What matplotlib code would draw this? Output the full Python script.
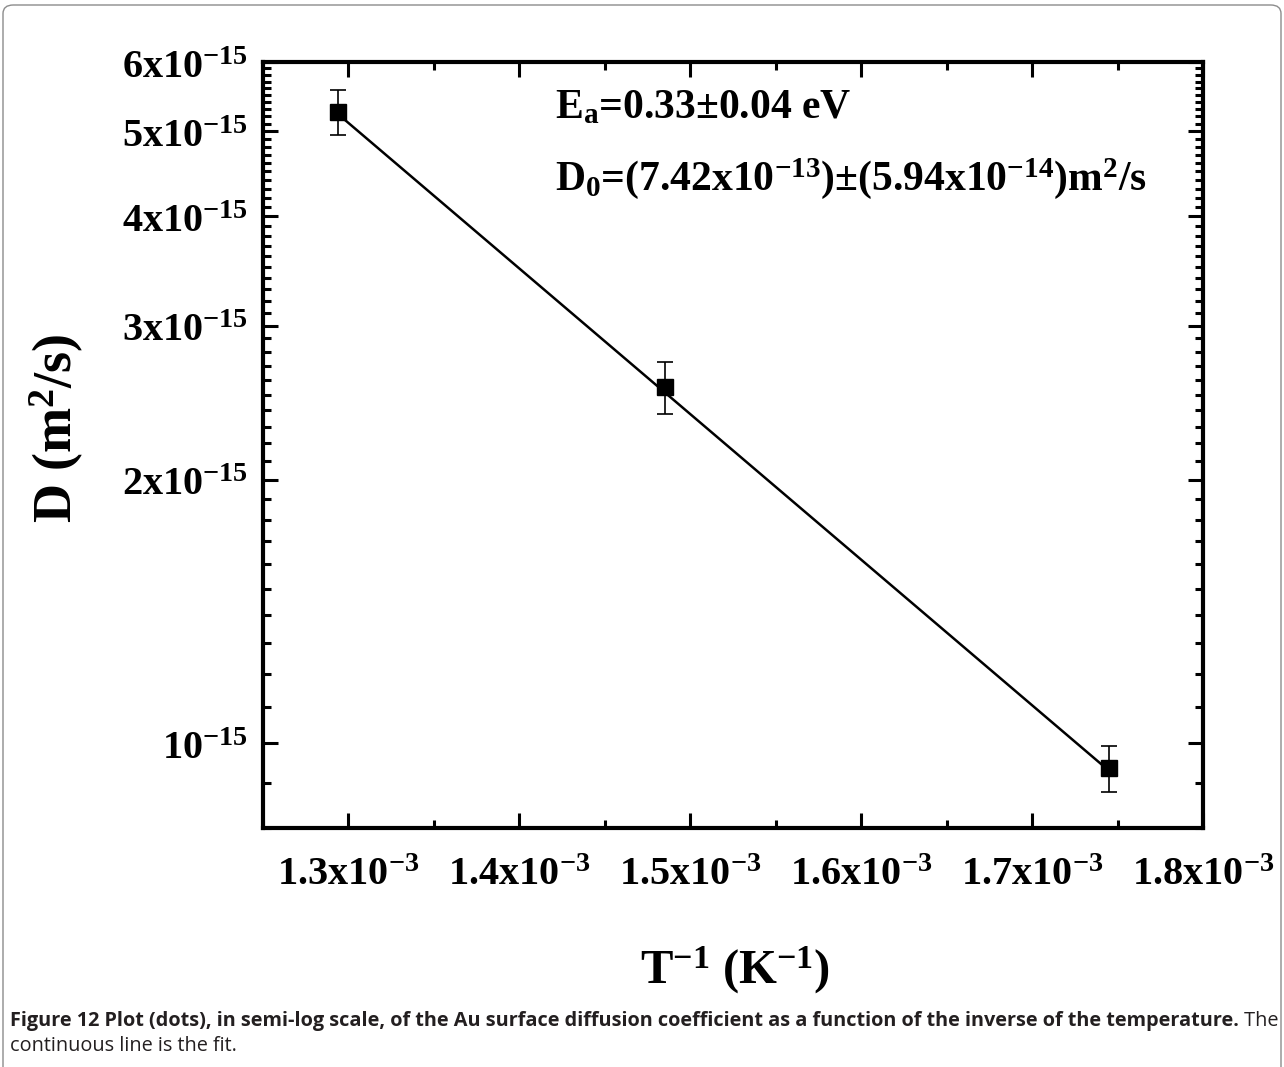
import matplotlib
matplotlib.use('Agg')
import matplotlib.pyplot as plt
from matplotlib import font_manager
from matplotlib.patches import FancyBboxPatch
from matplotlib.ticker import FixedLocator, NullFormatter
import numpy as np

# ---- data ----
inv_T = [1.294e-3, 1.485e-3, 1.745e-3]
D = [5.26e-15, 2.55e-15, 0.936e-15]
D_err = [0.31e-15, 0.175e-15, 0.056e-15]
fit_inv_T = [1.294e-3, 1.745e-3]
fit_D = [5.23e-15, 0.93e-15]

x_major = [1.3e-3, 1.4e-3, 1.5e-3, 1.6e-3, 1.7e-3, 1.8e-3]
x_labels = [r'$\mathbf{1.3x10^{-3}}$', r'$\mathbf{1.4x10^{-3}}$', r'$\mathbf{1.5x10^{-3}}$',
            r'$\mathbf{1.6x10^{-3}}$', r'$\mathbf{1.7x10^{-3}}$', r'$\mathbf{1.8x10^{-3}}$']
y_major = [1e-15, 2e-15, 3e-15, 4e-15, 5e-15, 6e-15]
y_labels = [r'$\mathbf{10^{-15}}$', r'$\mathbf{2x10^{-15}}$', r'$\mathbf{3x10^{-15}}$',
            r'$\mathbf{4x10^{-15}}$', r'$\mathbf{5x10^{-15}}$', r'$\mathbf{6x10^{-15}}$']

ann1 = r'E$_\mathbf{a}$=0.33±0.04 eV'
ann2 = r'D$_\mathbf{0}$=(7.42x10$^\mathbf{-13}$)±(5.94x10$^\mathbf{-14}$)m$^\mathbf{2}$/s'
xlabel = r'$\mathbf{T^{-1}\ (K^{-1})}$'
ylabel = r'$\mathbf{D\ (m^2/s)}$'
cap_bold = ("Figure 12 Plot (dots), in semi-log scale, of the Au surface diffusion "
            "coefficient as a function of the inverse of the temperature.")
cap_norm1 = " The"
cap_norm2 = "continuous line is the fit."

plt.rcParams['mathtext.fontset'] = 'custom'
plt.rcParams['mathtext.rm'] = 'Liberation Serif'
plt.rcParams['mathtext.bf'] = 'Liberation Serif:bold'
plt.rcParams['mathtext.it'] = 'Liberation Serif:italic'

W, H = 1284, 1067
fig = plt.figure(figsize=(W / 100, H / 100), dpi=100)
fig.patch.set_facecolor('white')

# figure border
border = FancyBboxPatch((3 / W, -20 / H), (W - 6) / W, (H + 20 - 5) / H,
                        boxstyle="round,pad=0,rounding_size=0.008",
                        transform=fig.transFigure, fill=False,
                        edgecolor='#8c8c8c', linewidth=1.0)
fig.patches.append(border)

L, R, T, B = 263, 1203, 62, 828
ax = fig.add_axes([L / W, 1 - B / H, (R - L) / W, (B - T) / H])

ax.plot(fit_inv_T, fit_D, color='black', lw=1.8, zorder=2)
ax.errorbar(inv_T, D, yerr=D_err, fmt='s', color='black', ms=11.5,
            ecolor='black', elinewidth=1.2, capsize=6, capthick=1.2, zorder=3)

ax.set_yscale('log')
ax.set_xlim(1.25e-3, 1.8e-3)
ax.set_ylim(0.8e-15, 6e-15)

ax.xaxis.set_major_locator(FixedLocator(x_major))
ax.set_xticklabels(x_labels)
ax.xaxis.set_minor_locator(FixedLocator(np.arange(1.25e-3, 1.8e-3, 1e-4)))
ax.yaxis.set_major_locator(FixedLocator(y_major))
ax.set_yticklabels(y_labels)
ymin = [v * 1e-16 for v in range(8, 60) if v % 10 != 0]
ax.yaxis.set_minor_locator(FixedLocator(ymin))
ax.yaxis.set_minor_formatter(NullFormatter())

ax.tick_params(which='both', direction='in', top=True, right=True, width=2.2, color='black')
ax.tick_params(which='major', length=10.5, labelsize=29)
ax.tick_params(which='minor', length=6)
ax.tick_params(axis='x', which='major', pad=19)
ax.tick_params(axis='y', which='major', pad=11)
for s in ax.spines.values():
    s.set_linewidth(3)

for txt, yb in [(ann1, 118), (ann2, 190)]:
    ax.text((555 - L) / (R - L), (B - yb) / (B - T), txt, transform=ax.transAxes,
            fontsize=30, va='baseline', ha='left', family='Liberation Serif',
            fontweight='bold')

fig.text(57 / W, 1 - 428 / H, ylabel, rotation=90, ha='center', va='center', fontsize=39)
fig.text(735 / W, 1 - 970 / H, xlabel, ha='center', va='center', fontsize=35)

# caption
cap_family = 'Open Sans'
for fam in ['Liberation Sans Narrow', 'Open Sans']:
    try:
        font_manager.findfont(font_manager.FontProperties(family=fam), fallback_to_default=False)
        cap_family = fam
        break
    except Exception:
        continue

renderer = fig.canvas.get_renderer()
x0 = 10
target = 1272
fs = 15
tb = fig.text(x0 / W, 1 - 1026 / H, cap_bold, fontsize=fs, family=cap_family,
              fontweight='bold', color='#231f20', va='baseline', ha='left')
tn = fig.text(0, 1 - 1026 / H, cap_norm1, fontsize=fs, family=cap_family,
              color='#231f20', va='baseline', ha='left')
for _ in range(3):
    wb = tb.get_window_extent(renderer).width
    wn = tn.get_window_extent(renderer).width
    fs = fs * target / (wb + wn)
    tb.set_fontsize(fs)
    tn.set_fontsize(fs)
wb = tb.get_window_extent(renderer).width
tn.set_x((x0 + wb) / W)
fig.text(x0 / W, 1 - 1051 / H, cap_norm2, fontsize=fs, family=cap_family,
         color='#231f20', va='baseline', ha='left')

fig.savefig('out.png', dpi=100)
